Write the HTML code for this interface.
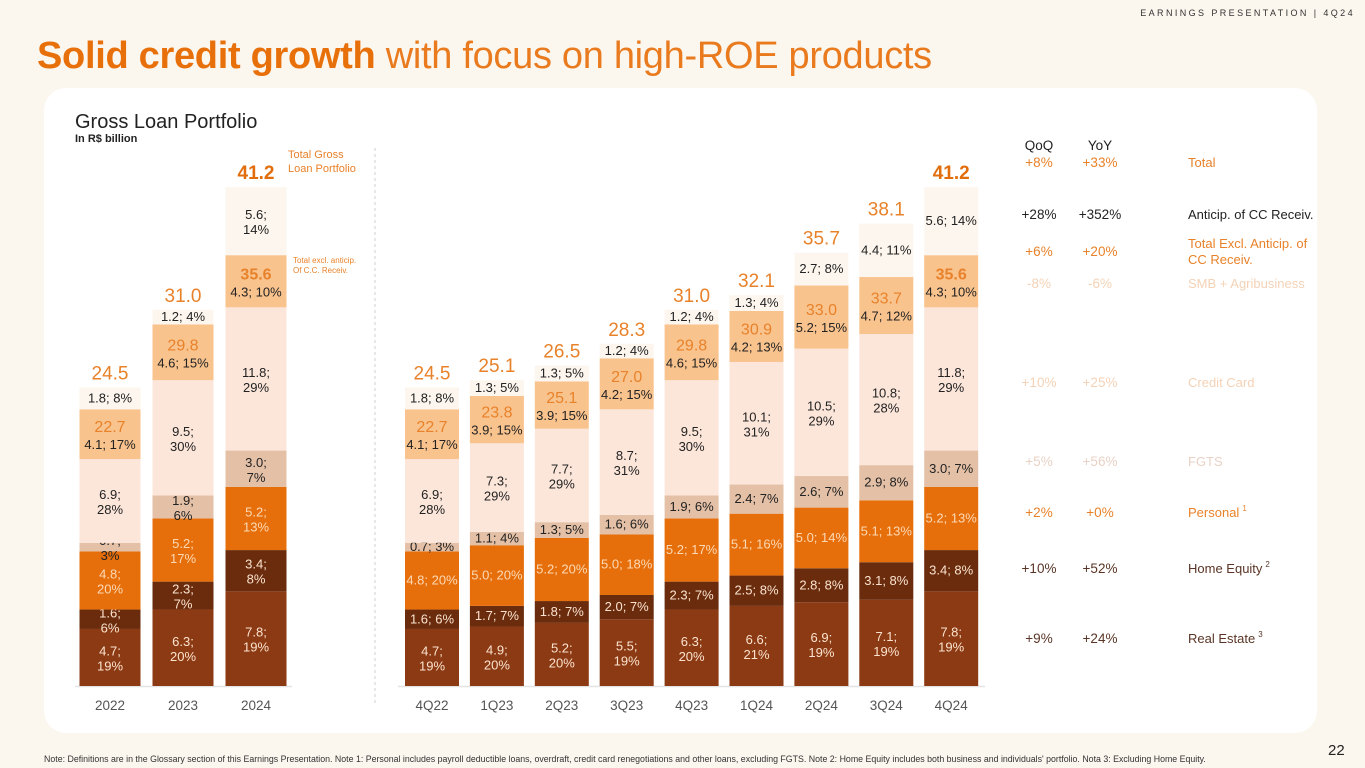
<!DOCTYPE html>
<html><head><meta charset="utf-8"><style>
html,body{margin:0;padding:0;width:1365px;height:768px;overflow:hidden;background:#fbf6ee;font-family:"Liberation Sans",sans-serif}
#hdr{position:absolute;right:10px;top:8px;font-size:9px;letter-spacing:2.4px;color:#333}
#title{position:absolute;left:37px;top:35px;font-size:38px;color:#e8700a;letter-spacing:-0.3px;white-space:nowrap}
#title b{font-weight:bold}
#title span{font-weight:normal;color:#e97a1e}
#card{position:absolute;left:44px;top:88px;width:1273px;height:645px;background:#fff;border-radius:22px}
#sub{position:absolute;left:75px;top:111px;font-size:20px;color:#222}
#sub2{position:absolute;left:75px;top:133px;font-size:11px;color:#222;font-weight:bold}
#note{position:absolute;left:44px;top:754px;font-size:8.8px;color:#333;white-space:nowrap}
#pg{position:absolute;left:1328px;top:742px;font-size:15px;color:#222}
svg{position:absolute;left:0;top:0}
</style></head><body>
<div id="hdr">EARNINGS PRESENTATION | 4Q24</div>
<div id="title"><b>Solid credit growth</b> <span>with focus on high-ROE products</span></div>
<div id="card"></div>
<div id="sub">Gross Loan Portfolio</div>
<div id="sub2">In R$ billion</div>
<div id="note">Note: Definitions are in the Glossary section of this Earnings Presentation. Note 1: Personal includes payroll deductible loans, overdraft, credit card renegotiations and other loans, excluding FGTS. Note 2: Home Equity includes both business and individuals' portfolio. Nota 3: Excluding Home Equity.</div>
<div id="pg">22</div>
<svg id="chart" width="1365" height="768"></svg>
<script>
const categories=["2022","2023","2024","4Q22","1Q23","2Q23","3Q23","4Q23","1Q24","2Q24","3Q24","4Q24"];
const realEstate=[4.7,6.3,7.8,4.7,4.9,5.2,5.5,6.3,6.6,6.9,7.1,7.8];
const realEstatePct=[19,20,19,19,20,20,19,20,21,19,19,19];
const homeEquity=[1.6,2.3,3.4,1.6,1.7,1.8,2.0,2.3,2.5,2.8,3.1,3.4];
const homeEquityPct=[6,7,8,6,7,7,7,7,8,8,8,8];
const personal=[4.8,5.2,5.2,4.8,5.0,5.2,5.0,5.2,5.1,5.0,5.1,5.2];
const personalPct=[20,17,13,20,20,20,18,17,16,14,13,13];
const fgts=[0.7,1.9,3.0,0.7,1.1,1.3,1.6,1.9,2.4,2.6,2.9,3.0];
const fgtsPct=[3,6,7,3,4,5,6,6,7,7,8,7];
const creditCard=[6.9,9.5,11.8,6.9,7.3,7.7,8.7,9.5,10.1,10.5,10.8,11.8];
const creditCardPct=[28,30,29,28,29,29,31,30,31,29,28,29];
const smb=[4.1,4.6,4.3,4.1,3.9,3.9,4.2,4.6,4.2,5.2,4.7,4.3];
const smbPct=[17,15,10,17,15,15,15,15,13,15,12,10];
const anticip=[1.8,1.2,5.6,1.8,1.3,1.3,1.2,1.2,1.3,2.7,4.4,5.6];
const anticipPct=[8,4,14,8,5,5,4,4,4,8,11,14];
const totals=["24.5","31.0","41.2","24.5","25.1","26.5","28.3","31.0","32.1","35.7","38.1","41.2"];
const exclTotals=["22.7","29.8","35.6","22.7","23.8","25.1","27.0","29.8","30.9","33.0","33.7","35.6"];
const qoq=["+8%","+28%","+6%","-8%","+10%","+5%","+2%","+10%","+9%"];
const yoy=["+33%","+352%","+20%","-6%","+25%","+56%","+0%","+52%","+24%"];
const rowLabels=["Total","Anticip. of CC Receiv.","Total Excl. Anticip. of|CC Receiv.","SMB + Agribusiness","Credit Card","FGTS","Personal","Home Equity","Real Estate"];
const rowSup=["","","","","","","1","2","3"];

const NS="http://www.w3.org/2000/svg";
const svg=document.getElementById('chart');
function mk(tag,attrs,parent){const e=document.createElementNS(NS,tag);for(const k in attrs)e.setAttribute(k,attrs[k]);(parent||svg).appendChild(e);return e;}
const baseY=686, scale=500/41.2;
function yS(v){return baseY-v*scale;}
function xC(i){return i<3?110+i*73:432+(i-3)*64.9;}
function bw(i){return i<3?61:54;}
const series=[realEstate,homeEquity,personal,fgts,creditCard,smb,anticip];
const pcts=[realEstatePct,homeEquityPct,personalPct,fgtsPct,creditCardPct,smbPct,anticipPct];
const names=["real-estate","home-equity","personal","fgts","credit-card","smb","anticip"];
const fills=["#8b3a13","#6a2c0d","#e66f0b","#e4c0a6","#fce6da","#f9c38e","#fdf6ee"];
const tcol=["#fbe3cf","#fbe3cf","#fcd9b5","#222","#222","#222","#222"];

const ax1=mk('line',{x1:75,x2:292,y1:baseY+0.5,y2:baseY+0.5,stroke:'#e3e3e3','stroke-width':1.5});


const ax2=mk('line',{x1:398,x2:985,y1:baseY+0.5,y2:baseY+0.5,stroke:'#e3e3e3','stroke-width':1.5});


const dv=mk('line',{x1:375,x2:375,y1:148,y2:705,stroke:'#cfcfcf','stroke-dasharray':'3,3'});



function txt(x,y,s,opt,name){const t=mk('text',Object.assign({x:x,y:y,'text-anchor':'middle','font-size':13,fill:'#222'},opt||{}));t.textContent=s;return t;}

categories.forEach((c,i)=>{
  const cx=xC(i),w=bw(i);let cum=0;
  const annual=i<3;
  series.forEach((s,k)=>{
    const v=s[i];const y0=yS(cum),y1=yS(cum+v);cum+=v;
    const r=mk('rect',{x:cx-w/2,y:y1,width:w,height:y0-y1,fill:fills[k]});
    
    
    const mid=(y0+y1)/2;
    const vs=v.toFixed(1),ps=pcts[k][i]+'%';
    let two;
    if(annual) two=(k<=4)||(k==6&&i==2);
    else two=(k==0||k==4);
    const fs=(!annual&&!two&&vs.length+ps.length>6)?12.5:13;
    if(k==5){
      txt(cx,mid-2,exclTotals[i],{fill:'#e8822a','font-size':16,'font-weight':(i==2||i==11)?'bold':'normal'},'excl-total-'+c);
      txt(cx,mid+15,vs+'; '+ps,{fill:tcol[k],'font-size':fs},'label-'+names[k]+'-'+c);
    } else if(two){
      txt(cx,mid-2,vs+';',{fill:tcol[k]},'label-'+names[k]+'-'+c);
      txt(cx,mid+13,ps,{fill:tcol[k]},'label-pct-'+names[k]+'-'+c);
    } else {
      txt(cx,mid+4,vs+'; '+ps,{fill:tcol[k],'font-size':fs},'label-'+names[k]+'-'+c);
    }
  });
  const last=(i==2||i==11);
  txt(cx,yS(cum)-8,totals[i],{fill:last?'#e26d0c':'#e8822a','font-size':19,'font-weight':last?'bold':'normal'},'total-'+c);
  txt(cx,710,c,{fill:'#555','font-size':13.5},'x-label-'+c);
});
txt(288,158,'Total Gross',{fill:'#e8822a','font-size':11,'text-anchor':'start'},'annotation-total');
txt(288,172,'Loan Portfolio',{fill:'#e8822a','font-size':11,'text-anchor':'start'},'annotation-total-2');
txt(293,263,'Total excl. anticip.',{fill:'#e8822a','font-size':8,'text-anchor':'start'},'annotation-excl');
txt(293,273,'Of C.C. Receiv.',{fill:'#e8822a','font-size':8,'text-anchor':'start'},'annotation-excl-2');

txt(1039,150,'QoQ',{fill:'#222','font-size':13.5},'qoq-header');
txt(1100,150,'YoY',{fill:'#222','font-size':13.5},'yoy-header');
const rowY=[167,219,256,288,387,466,517,573,643];
const rowCol=['#e8822a','#222','#e8822a','#f4d2b6','#f4d2b6','#e8d2c6','#e8822a','#5a3526','#5a3526'];
rowLabels.forEach((l,r)=>{
  const col=rowCol[r],y=rowY[r];
  txt(1039,y,qoq[r],{fill:col,'font-size':13.5},'qoq-'+r);
  txt(1100,y,yoy[r],{fill:col,'font-size':13.5},'yoy-'+r);
  const parts=l.split('|');
  parts.forEach((p,j)=>{
    const t=txt(1188,y+(parts.length>1?(j*16-8):0),p,{fill:col,'font-size':13,'text-anchor':'start'},'row-label-'+r);
    if(rowSup[r]&&j==0){const ts=document.createElementNS(NS,'tspan');ts.setAttribute('font-size',8);ts.setAttribute('dy',-6);ts.setAttribute('dx',3);ts.textContent=rowSup[r];t.appendChild(ts);}
  });
});
</script>
</body></html>
